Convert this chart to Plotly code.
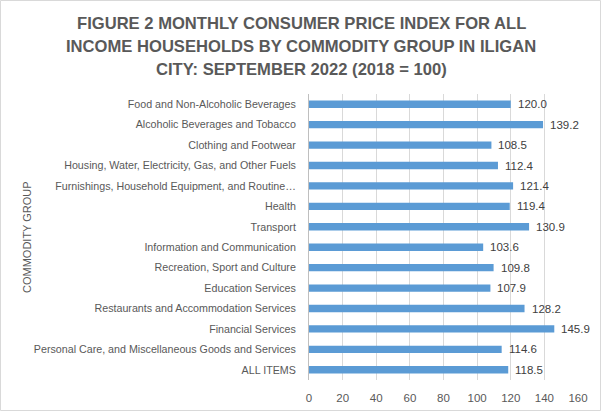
import plotly.graph_objects as go

categories = [
    "Food and Non-Alcoholic Beverages",
    "Alcoholic Beverages and Tobacco",
    "Clothing and Footwear",
    "Housing, Water, Electricity, Gas, and Other Fuels",
    "Furnishings, Household Equipment, and Routine…",
    "Health",
    "Transport",
    "Information and Communication",
    "Recreation, Sport and Culture",
    "Education Services",
    "Restaurants and Accommodation Services",
    "Financial Services",
    "Personal Care, and Miscellaneous Goods and Services",
    "ALL ITEMS",
]
values = [120.0, 139.2, 108.5, 112.4, 121.4, 119.4, 130.9, 103.6, 109.8, 107.9, 128.2, 145.9, 114.6, 118.5]
x_ticks = [0, 20, 40, 60, 80, 100, 120, 140, 160]
title_lines = [
    "FIGURE 2 MONTHLY CONSUMER PRICE INDEX FOR ALL",
    "INCOME HOUSEHOLDS BY COMMODITY GROUP IN ILIGAN",
    "CITY: SEPTEMBER 2022 (2018 = 100)",
]

W, H = 602, 412
L, R, T, B = 309, 24, 94, 32
pw, ph = W - L - R, H - T - B

FONT = "Liberation Sans, Arial, sans-serif"
GRAY = "#595959"

fig = go.Figure(go.Bar(
    y=categories, x=values, orientation="h",
    marker=dict(color="#5B9BD5", line_width=0),
    width=0.36,
    hoverinfo="x+y",
))

def py(pix):
    return (H - B - pix) / ph

def px(pix):
    return (pix - L) / pw

annotations = []
for c, v in zip(categories, values):
    annotations.append(dict(
        x=v, y=c, xref="x", yref="y", text=f"{v:.1f}", showarrow=False,
        xanchor="left", yanchor="middle", xshift=5,
        font=dict(family=FONT, size=11.5, color="#404040"),
    ))
for i, line in enumerate(title_lines):
    annotations.append(dict(
        text=f"<b>{line}</b>", xref="paper", yref="paper",
        x=px(301), y=py(24 + 23 * i), xanchor="center", yanchor="middle",
        showarrow=False,
        font=dict(family=FONT, size=16.6, color=GRAY),
    ))
annotations.append(dict(
    text="COMMODITY GROUP", xref="paper", yref="paper",
    x=px(27), y=0.5, textangle=-90, showarrow=False,
    xanchor="center", yanchor="middle",
    font=dict(family=FONT, size=11, color=GRAY),
))

fig.update_layout(
    width=W, height=H,
    margin=dict(l=L, r=R, t=T, b=B, autoexpand=False),
    paper_bgcolor="white", plot_bgcolor="white",
    showlegend=False,
    xaxis=dict(
        range=[0, 160], tickvals=x_ticks, showgrid=True, gridcolor="#d9d9d9", gridwidth=1,
        zeroline=False, showline=False, automargin=False,
        tickfont=dict(family=FONT, size=11.5, color=GRAY),
        ticks="outside", ticklen=7, tickcolor="rgba(0,0,0,0)",
    ),
    yaxis=dict(
        autorange="reversed", showline=True, linecolor="#bfbfbf", linewidth=1,
        automargin=False,
        tickfont=dict(family=FONT, size=10.7, color=GRAY),
        ticks="outside", ticklen=10, tickcolor="rgba(0,0,0,0)",
    ),
    annotations=annotations,
    shapes=[dict(
        type="rect", xref="paper", yref="paper",
        x0=px(0.5), x1=px(W - 1.5),
        y0=py(H - 1.5), y1=py(0.5),
        line=dict(color="#d9d9d9", width=1), layer="below",
    )],
)

fig.write_html("out.html")
